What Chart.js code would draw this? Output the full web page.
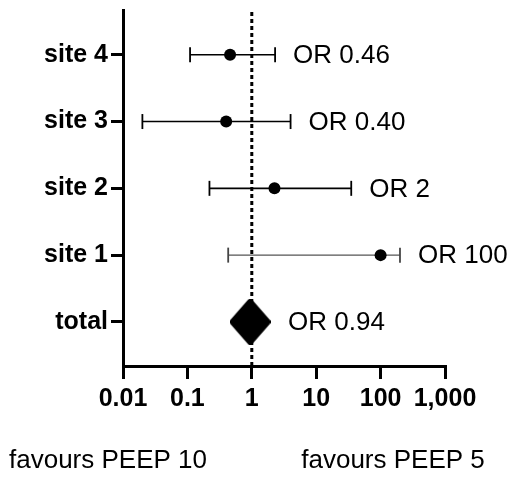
<!DOCTYPE html>
<html>
<head>
<meta charset="utf-8">
<script src="https://cdn.jsdelivr.net/npm/chart.js@4.4.1/dist/chart.umd.min.js"></script>
<style>
  html, body { margin: 0; padding: 0; background: #fff; }
  #wrap { width: 509px; height: 478px; }
</style>
</head>
<body>
<div id="wrap"><canvas id="c" width="509" height="478"></canvas></div>
<script>
// ---- data ----
const rows = ['site 4', 'site 3', 'site 2', 'site 1', 'total'];
const oddsRatio = [0.46, 0.40, 2.25, 100, 0.94];
const ciLower = [0.11, 0.02, 0.22, 0.43, null];
const ciUpper = [2.3, 4.0, 35, 200, null];
const orLabels = ['OR 0.46', 'OR 0.40', 'OR 2', 'OR 100', 'OR 0.94'];
const xTicks = [0.01, 0.1, 1, 10, 100, 1000];
const xTickLabels = ['0.01', '0.1', '1', '10', '100', '1,000'];
const footLabels = ['favours PEEP 10', 'favours PEEP 5'];
const nullEffect = 1;

const FONT = "'Liberation Sans', Arial, sans-serif";
Chart.defaults.font.family = FONT;
Chart.defaults.color = '#000';

const rowPos = i => rows.length - 1 - i;
const yMin = -0.66, yMax = 4.67;

// diamond marker for the pooled estimate
const diamond = document.createElement('canvas');
diamond.width = 41; diamond.height = 46;
(function () {
  const g = diamond.getContext('2d');
  g.fillStyle = '#000'; g.strokeStyle = '#000';
  g.lineWidth = 6; g.lineJoin = 'round';
  g.beginPath();
  g.moveTo(20.5, 3); g.lineTo(38, 23); g.lineTo(20.5, 43); g.lineTo(3, 23); g.closePath();
  g.fill(); g.stroke();
})();

const datasets = [];
// null-effect reference line
datasets.push({
  type: 'line',
  data: [{ x: nullEffect, y: yMin }, { x: nullEffect, y: yMax }],
  borderColor: '#000', borderWidth: 3, borderDash: [4, 3],
  pointRadius: 0, clip: false, order: 5
});
// error bars
rows.forEach((r, i) => {
  if (ciLower[i] == null) return;
  const faint = r === 'site 1';
  datasets.push({
    type: 'line',
    data: [{ x: ciLower[i], y: rowPos(i) }, { x: ciUpper[i], y: rowPos(i) }],
    borderColor: faint ? '#555' : '#000',
    borderWidth: faint ? 1.2 : 1.6,
    pointStyle: 'line', pointRotation: 90, pointRadius: 7.5,
    pointBorderColor: faint ? '#444' : '#000', pointBorderWidth: 1.8,
    order: 3
  });
});
// point estimates
datasets.push({
  type: 'scatter',
  data: rows.map((r, i) => ({ x: oddsRatio[i], y: rowPos(i) })),
  pointStyle: rows.map(r => r === 'total' ? diamond : 'circle'),
  pointRadius: rows.map(r => r === 'total' ? 21 : 6),
  backgroundColor: '#000', borderColor: '#000', borderWidth: 0,
  order: 1
});

const labelPlugin = {
  id: 'orLabels',
  afterDatasetsDraw(chart) {
    const ctx = chart.ctx, xs = chart.scales.x, ys = chart.scales.y;
    ctx.save();
    ctx.fillStyle = '#000';
    ctx.font = '26px ' + FONT;
    ctx.textAlign = 'left';
    ctx.textBaseline = 'middle';
    rows.forEach((r, i) => {
      const right = ciUpper[i] != null ? xs.getPixelForValue(ciUpper[i]) : xs.getPixelForValue(oddsRatio[i]) + 20;
      ctx.fillText(orLabels[i], right + 18, ys.getPixelForValue(rowPos(i)) + 1);
    });
    ctx.font = '26px ' + FONT;
    ctx.textAlign = 'center';
    ctx.textBaseline = 'alphabetic';
    ctx.fillText(footLabels[0], 108, 468);
    ctx.fillText(footLabels[1], 393, 468);
    ctx.restore();
  }
};

new Chart(document.getElementById('c'), {
  data: { datasets },
  options: {
    responsive: false,
    animation: false,
    layout: { autoPadding: false, padding: { left: 0, right: 64, top: 10, bottom: 0 } },
    plugins: { legend: { display: false }, tooltip: { enabled: false } },
    scales: {
      x: {
        type: 'logarithmic',
        min: xTicks[0], max: xTicks[xTicks.length - 1],
        afterBuildTicks: s => { s.ticks = xTicks.map(v => ({ value: v })); },
        afterFit: s => { s.height = 112; s.paddingLeft = 0; s.paddingRight = 0; },
        ticks: {
          autoSkip: false, maxRotation: 0, padding: 5,
          font: { size: 25, weight: 'bold', family: FONT }, color: '#000',
          callback: (v, idx) => xTickLabels[idx]
        },
        grid: { drawOnChartArea: false, drawTicks: true, tickLength: 13, lineWidth: 3, color: '#000' },
        border: { display: true, width: 3, color: '#000' }
      },
      y: {
        type: 'linear',
        min: yMin, max: yMax,
        afterBuildTicks: s => { s.ticks = rows.map((r, i) => ({ value: rowPos(i) })); },
        afterFit: s => { s.width = 123; s.paddingTop = 0; s.paddingBottom = 0; },
        ticks: {
          autoSkip: false, padding: 3,
          font: { size: 25, weight: 'bold', family: FONT }, color: '#000',
          callback: v => rows[rows.length - 1 - Math.round(v)]
        },
        grid: { drawOnChartArea: false, drawTicks: true, tickLength: 12, lineWidth: 3, color: '#000' },
        border: { display: true, width: 3, color: '#000' }
      }
    }
  },
  plugins: [labelPlugin]
});
</script>
</body>
</html>
